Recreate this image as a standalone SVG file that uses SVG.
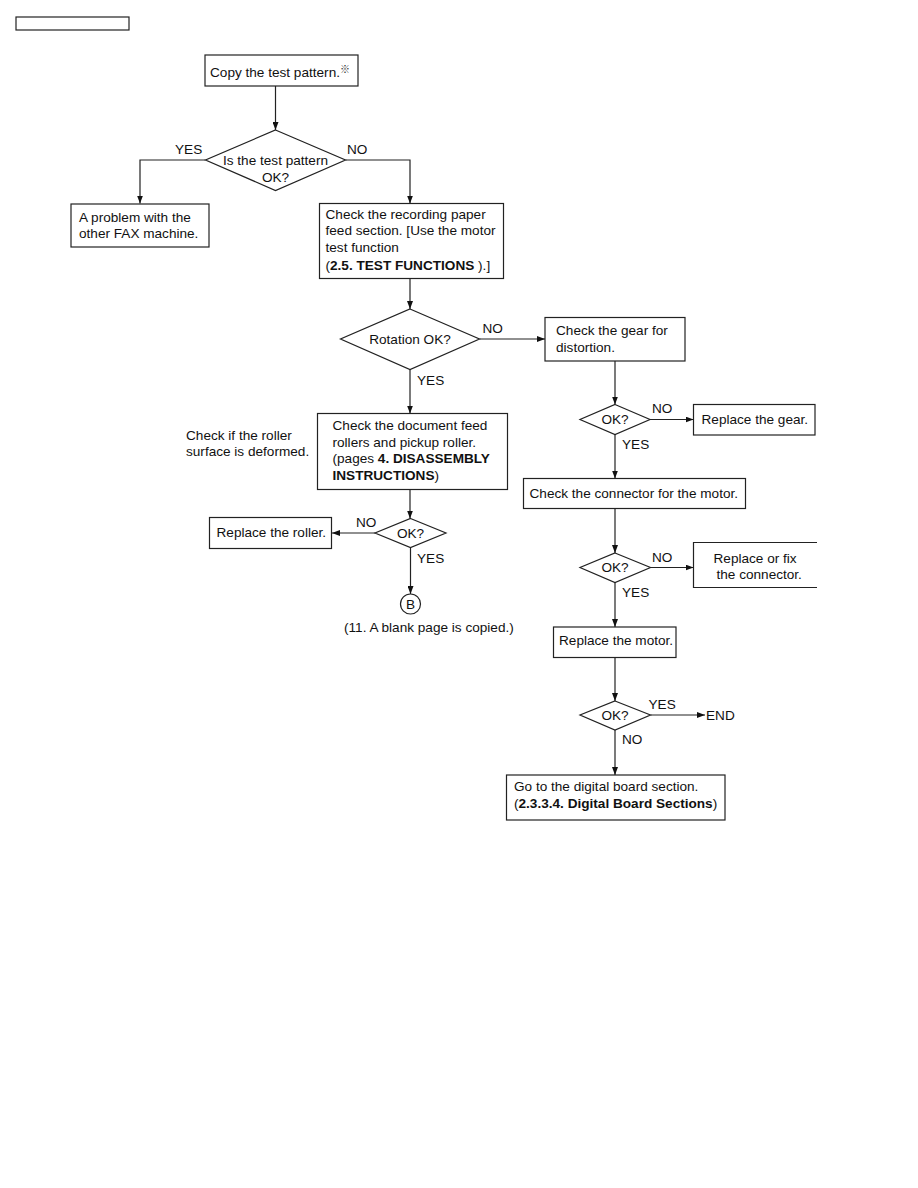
<svg xmlns="http://www.w3.org/2000/svg" width="918" height="1188" viewBox="0 0 918 1188">
<style>
text{font-family:"Liberation Sans",Arial,sans-serif;font-size:13.6px;fill:#111}
.b{font-weight:bold}
.box{fill:#fff;stroke:#222;stroke-width:1.2}
.dia{fill:#fff;stroke:#222;stroke-width:1.2}
.ln{fill:none;stroke:#222;stroke-width:1.2}
.m{text-anchor:middle}
</style>
<defs>
<marker id="ah" markerWidth="8" markerHeight="6" refX="8" refY="3" orient="auto" markerUnits="userSpaceOnUse">
<path d="M0,0 L8,3 L0,6 z" fill="#111"/>
</marker>
</defs>
<rect width="918" height="1188" fill="#fff"/>
<g id="header"><rect class="box" x="16" y="17" width="113" height="13"/></g>

<g id="connectors">
<path class="ln" d="M275.5,86 V130" marker-end="url(#ah)"/>
<path class="ln" d="M205.5,160 H140 V203.5" marker-end="url(#ah)"/>
<path class="ln" d="M345.5,160 H410 V203.5" marker-end="url(#ah)"/>
<path class="ln" d="M410,278.5 V309" marker-end="url(#ah)"/>
<path class="ln" d="M479.5,339 H545" marker-end="url(#ah)"/>
<path class="ln" d="M410,369.5 V413.5" marker-end="url(#ah)"/>
<path class="ln" d="M410,489.5 V518.5" marker-end="url(#ah)"/>
<path class="ln" d="M375,533 H332" marker-end="url(#ah)"/>
<path class="ln" d="M410.5,547.5 V594" marker-end="url(#ah)"/>
<path class="ln" d="M615,361 V404.5" marker-end="url(#ah)"/>
<path class="ln" d="M650,419.5 H693.5" marker-end="url(#ah)"/>
<path class="ln" d="M615,434.5 V478.5" marker-end="url(#ah)"/>
<path class="ln" d="M615,508.5 V553" marker-end="url(#ah)"/>
<path class="ln" d="M650.5,567.5 H693.5" marker-end="url(#ah)"/>
<path class="ln" d="M615,582.5 V627" marker-end="url(#ah)"/>
<path class="ln" d="M615,657.5 V701" marker-end="url(#ah)"/>
<path class="ln" d="M650.5,715 H705" marker-end="url(#ah)"/>
<path class="ln" d="M615,730 V775" marker-end="url(#ah)"/>
</g>

<g id="labels">
<text x="175" y="154">YES</text>
<text x="347" y="154">NO</text>
<text x="482.5" y="332.5">NO</text>
<text x="417" y="385">YES</text>
<text x="356" y="526.5">NO</text>
<text x="417" y="562.5">YES</text>
<text x="652" y="413">NO</text>
<text x="622" y="449">YES</text>
<text x="652" y="561.5">NO</text>
<text x="622" y="596.5">YES</text>
<text x="648.5" y="708.5">YES</text>
<text x="622" y="743.5">NO</text>
</g>

<g id="n-copy">
<rect class="box" x="205" y="55" width="153" height="31"/>
<text x="210" y="77">Copy the test pattern.<tspan font-size="10" dy="-4" fill="#333" font-weight="bold" font-family="'Noto Sans CJK JP','DejaVu Sans',sans-serif">※</tspan></text>
</g>
<g id="n-d1">
<polygon class="dia" points="275.5,130 345.5,160 275.5,190.5 205.5,160"/>
<text class="m" x="275.5" y="165">Is the test pattern</text>
<text class="m" x="275.5" y="181.5">OK?</text>
</g>
<g id="n-problem">
<rect class="box" x="71" y="204" width="138" height="43"/>
<text x="79" y="221.5">A problem with the</text>
<text x="79" y="238">other FAX machine.</text>
</g>
<g id="n-check-rec">
<rect class="box" x="319.5" y="203.5" width="184" height="75"/>
<text x="325.5" y="218.5">Check the recording paper</text>
<text x="325.5" y="235">feed section. [Use the motor</text>
<text x="325.5" y="252">test function</text>
<text x="325.5" y="269.5">(<tspan class="b">2.5. TEST FUNCTIONS </tspan>).]</text>
</g>
<g id="n-rotation">
<polygon class="dia" points="410,309 479.5,339 410,369.5 340.5,339"/>
<text class="m" x="410" y="344">Rotation OK?</text>
</g>
<g id="n-docfeed">
<rect class="box" x="317.5" y="413.5" width="190" height="76"/>
<text x="332.5" y="430">Check the document feed</text>
<text x="332.5" y="446.5">rollers and pickup roller.</text>
<text x="332.5" y="463">(pages <tspan class="b">4. DISASSEMBLY</tspan></text>
<text x="332.5" y="480"><tspan class="b">INSTRUCTIONS</tspan>)</text>
</g>
<g id="n-note">
<text x="186" y="439.5">Check if the roller</text>
<text x="186" y="456">surface is deformed.</text>
</g>
<g id="n-ok1">
<polygon class="dia" points="410.5,518.5 446,533 410.5,547.5 375,533"/>
<text class="m" x="410.5" y="537.5">OK?</text>
</g>
<g id="n-roller">
<rect class="box" x="209.5" y="517.5" width="122" height="31"/>
<text x="216.5" y="537">Replace the roller.</text>
</g>
<g id="n-B">
<circle class="box" cx="410.5" cy="604" r="10"/>
<text class="m" x="410.5" y="608.5">B</text>
<text x="344" y="631.5">(11. A blank page is copied.)</text>
</g>
<g id="n-gear">
<rect class="box" x="545" y="317.5" width="140" height="43.5"/>
<text x="556" y="335">Check the gear for</text>
<text x="556" y="351.5">distortion.</text>
</g>
<g id="n-ok2">
<polygon class="dia" points="615,404.5 650,419.5 615,434.5 580,419.5"/>
<text class="m" x="615" y="424">OK?</text>
</g>
<g id="n-replgear">
<rect class="box" x="693.5" y="404.5" width="121.5" height="30.5"/>
<text x="701.5" y="424">Replace the gear.</text>
</g>
<g id="n-connector">
<rect class="box" x="523.5" y="478.5" width="222" height="30"/>
<text x="529.5" y="498">Check the connector for the motor.</text>
</g>
<g id="n-ok3">
<polygon class="dia" points="615,553 650.5,567.5 615,582.5 580,567.5"/>
<text class="m" x="615" y="572">OK?</text>
</g>
<g id="n-fixconn">
<path class="box" d="M817,542.5 H693.5 V587.5 H817"/>
<text x="713.5" y="562.5">Replace or fix</text>
<text x="716.5" y="578.5">the connector.</text>
</g>
<g id="n-motor">
<rect class="box" x="553.5" y="627" width="122.5" height="30.5"/>
<text x="559" y="645">Replace the motor.</text>
</g>
<g id="n-ok4">
<polygon class="dia" points="615,701 650.5,715 615,730 580,715"/>
<text class="m" x="615" y="720">OK?</text>
</g>
<g id="n-end"><text x="706" y="720">END</text></g>
<g id="n-digital">
<rect class="box" x="506.5" y="775" width="218.5" height="45"/>
<text x="514" y="791">Go to the digital board section.</text>
<text x="514" y="807.5">(<tspan class="b">2.3.3.4. Digital Board Sections</tspan>)</text>
</g>
</svg>
